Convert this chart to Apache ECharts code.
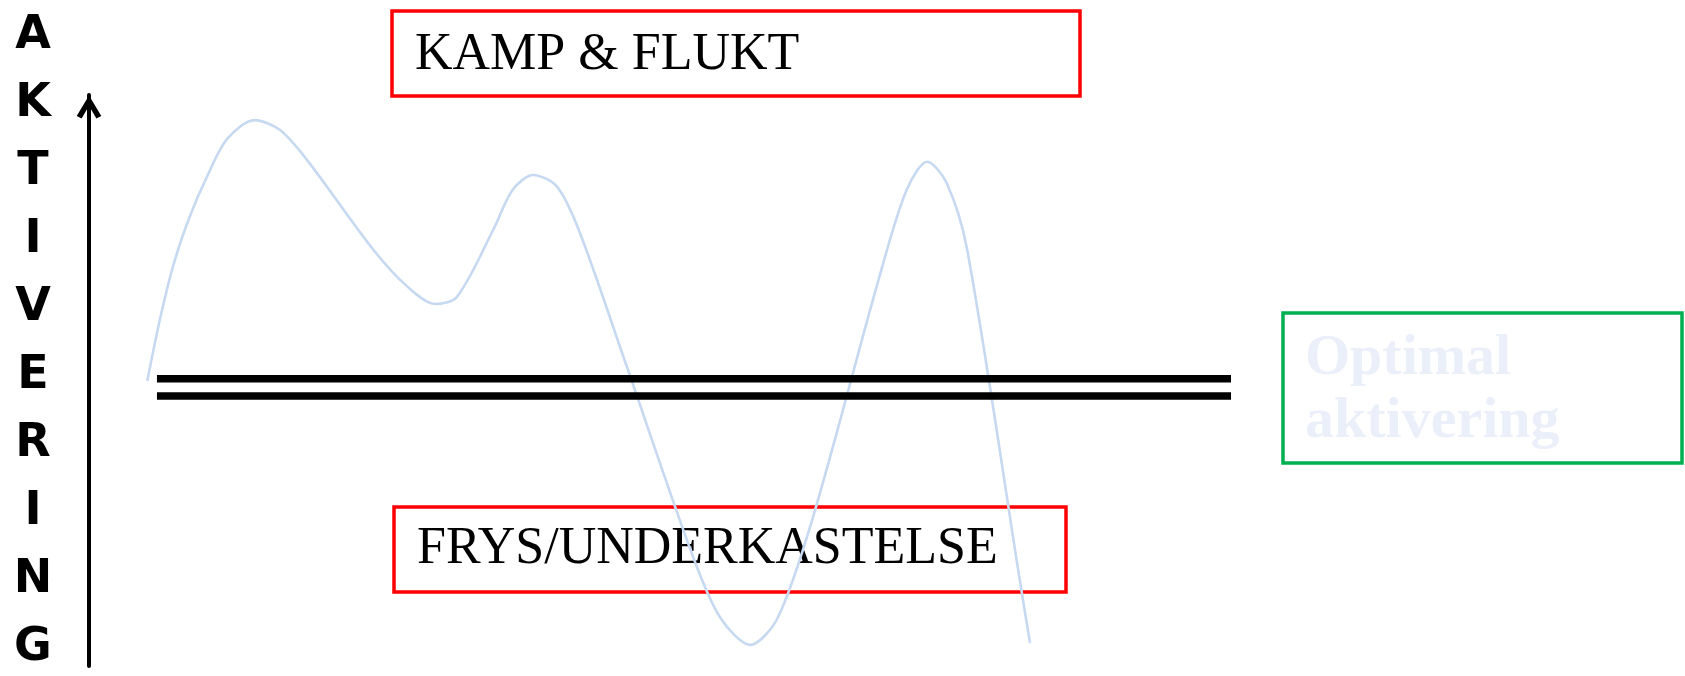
<!DOCTYPE html>
<html>
<head>
<meta charset="utf-8">
<title>Aktivering</title>
<script src="https://cdn.jsdelivr.net/npm/echarts@6/dist/echarts.min.js"></script>
<style>
  html, body { margin: 0; padding: 0; background: #ffffff; }
  #chart { width: 1685px; height: 676px; }
</style>
</head>
<body>
<div id="chart"></div>
<script>
// Axis title, one letter per row
const axisLetters = ['A', 'K', 'T', 'I', 'V', 'E', 'R', 'I', 'N', 'G'];

// Activation curve over time (x: time 0-100, y: activation 0-100)
const curveX = [5.1, 6.2, 7.4, 8.8, 10.4, 12.1, 14.5, 16.7, 19.1, 24.9, 27.9, 30.3, 32.2, 35.4, 37.1, 38.9, 41.0, 43.0, 47.1, 52.9, 55.3, 57.9, 60.3, 63.4, 69.3, 71.6, 73.4, 75.1, 76.9, 81.5, 82.4];
const curveY = [49.9, 60.6, 70.3, 78.6, 86.0, 92.3, 95.6, 93.9, 88.6, 72.9, 66.4, 63.4, 64.6, 76.4, 83.4, 86.0, 83.9, 75.8, 52.4, 19.1, 8.4, 3.7, 8.4, 26.1, 68.8, 83.4, 88.3, 84.6, 72.9, 15.1, 4.0];

// Optimal activation band (two black lines)
const bandX = [5.95, 100];
const bandUpper = 50.3;
const bandLower = 47.3;

// Text labels
const fightLabel = 'KAMP & FLUKT';
const freezeLabel = 'FRYS/UNDERKASTELSE';
const optimalLines = ['Optimal', 'aktivering'];

const chart = echarts.init(document.getElementById('chart'), null, { renderer: 'canvas' });

const curveColor = '#c6d9f1';
const serif = '"Liberation Serif", "Times New Roman", serif';

const option = {
  backgroundColor: '#ffffff',
  animation: false,
  grid: { left: 89, right: 454, top: 95, bottom: 10, containLabel: false },
  xAxis: {
    type: 'value',
    min: 0,
    max: 100,
    show: false
  },
  yAxis: {
    type: 'value',
    min: 0,
    max: 100,
    axisLine: {
      show: true,
      lineStyle: { color: '#000000', width: 4 },
      // open chevron arrow head
      symbol: ['none', 'path://M0,10 L6,0 L12,10 L9.6,11.2 L6,5 L2.4,11.2 Z'],
      symbolSize: [30, 23],
      symbolOffset: [0, -12]
    },
    axisTick: { show: false },
    axisLabel: { show: false },
    splitLine: { show: false }
  },
  series: [
    {
      name: 'aktivering',
      type: 'line',
      smooth: 0.3,
      symbol: 'none',
      lineStyle: { color: curveColor, width: 2.6 },
      data: curveX.map((x, i) => [x, curveY[i]]),
      z: 2
    },
    {
      name: 'optimal-upper',
      type: 'line',
      symbol: 'none',
      lineStyle: { color: '#000000', width: 7.5, cap: 'butt' },
      data: bandX.map(x => [x, bandUpper]),
      z: 3
    },
    {
      name: 'optimal-lower',
      type: 'line',
      symbol: 'none',
      lineStyle: { color: '#000000', width: 7.5, cap: 'butt' },
      data: bandX.map(x => [x, bandLower]),
      z: 3
    }
  ],
  graphic: [
    {
      type: 'text',
      x: 33,
      y: 342,
      style: {
        text: axisLetters.join('\n'),
        font: 'bold 46px "DejaVu Sans", Verdana, sans-serif',
        lineHeight: 68,
        fill: '#000000',
        align: 'center',
        verticalAlign: 'middle'
      }
    },
    {
      type: 'rect',
      shape: { x: 392, y: 11, width: 688, height: 85 },
      style: { fill: 'none', stroke: '#ff0000', lineWidth: 3.5 }
    },
    {
      type: 'text',
      x: 415,
      y: 55,
      style: { text: fightLabel, font: '52px ' + serif, fill: '#000000', verticalAlign: 'middle' }
    },
    {
      type: 'rect',
      shape: { x: 394, y: 507, width: 672, height: 85 },
      style: { fill: 'none', stroke: '#ff0000', lineWidth: 3.5 }
    },
    {
      type: 'text',
      x: 417,
      y: 549,
      style: { text: freezeLabel, font: '52px ' + serif, fill: '#000000', verticalAlign: 'middle' }
    },
    {
      type: 'rect',
      shape: { x: 1283, y: 313, width: 399, height: 150 },
      style: { fill: 'none', stroke: '#00b050', lineWidth: 3.5 }
    },
    {
      type: 'text',
      x: 1305,
      y: 359,
      style: { text: optimalLines[0], font: 'bold 58px ' + serif, fill: '#eaeff9', verticalAlign: 'middle' }
    },
    {
      type: 'text',
      x: 1305,
      y: 422,
      style: { text: optimalLines[1], font: 'bold 58px ' + serif, fill: '#eaeff9', verticalAlign: 'middle' }
    }
  ]
};

chart.setOption(option);
</script>
</body>
</html>
